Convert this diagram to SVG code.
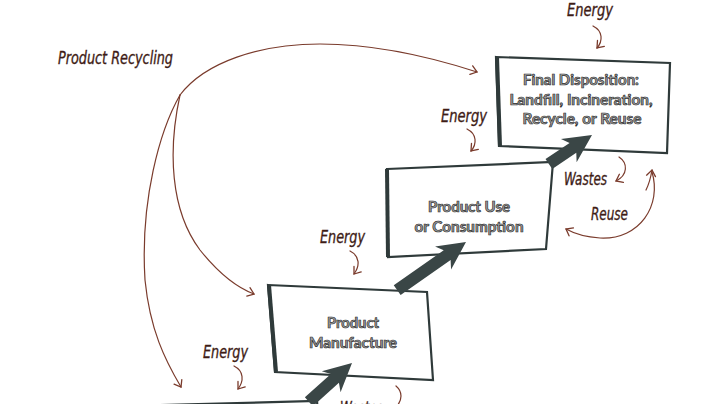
<svg xmlns="http://www.w3.org/2000/svg" width="720" height="404" viewBox="0 0 720 404">
<style>
.box{fill:#fff;stroke:#2f3a3a;stroke-width:2.2;stroke-linejoin:miter}
.edge{stroke:#2f3a3a;stroke-width:4;fill:none}
.bt{font-family:"Lato","Open Sans","DejaVu Sans",sans-serif;font-weight:bold;font-size:15px;fill:#a2a2a2;stroke:#2e2e2e;stroke-width:0.7;text-anchor:middle}
.lab{font-family:"DejaVu Sans Condensed","Liberation Sans Narrow","Liberation Sans",sans-serif;font-style:italic;font-size:18px;fill:#3e1c16;stroke:#3e1c16;stroke-width:0.35}
.cv{fill:none;stroke:#7a3b2c;stroke-width:1.2;stroke-linecap:round}
.big{fill:#3a4646}
</style>
<defs>
<marker id="hk" viewBox="-8 -6 10 12" markerWidth="10" markerHeight="12" refX="0" refY="0" orient="auto" markerUnits="userSpaceOnUse">
<path d="M-6,-4.5 L0,0 L-6,4.5" fill="none" stroke="#7a3b2c" stroke-width="1.3" stroke-linecap="round"/>
</marker>
</defs>
<rect width="720" height="404" fill="#fff"/>

<g id="node-bottom">
<polygon class="box" points="160,405 317,401 320,440 160,440"/>
</g>

<g id="node-manufacture">
<polygon class="box" points="268,285 427,292 433,380 275,372"/>
<line class="edge" x1="269" y1="285" x2="276" y2="372"/>
<text class="bt" x="353" y="328" textLength="52" lengthAdjust="spacingAndGlyphs">Product</text>
<text class="bt" x="353" y="348" textLength="88" lengthAdjust="spacingAndGlyphs">Manufacture</text>
</g>

<g id="node-use">
<polygon class="box" points="387,169 553,162 546,249 388,257"/>
<line class="edge" x1="387" y1="169" x2="388" y2="257"/>
<text class="bt" x="469" y="212" textLength="82" lengthAdjust="spacingAndGlyphs">Product Use</text>
<text class="bt" x="469" y="232" textLength="109" lengthAdjust="spacingAndGlyphs">or Consumption</text>
</g>

<g id="node-final">
<polygon class="box" points="496,57 670,63 667,153 499,146"/>
<line class="edge" x1="497" y1="57" x2="500" y2="146"/>
<text class="bt" x="581" y="85" textLength="116" lengthAdjust="spacingAndGlyphs">Final Disposition:</text>
<text class="bt" x="581" y="105" textLength="143" lengthAdjust="spacingAndGlyphs">Landfill, Incineration,</text>
<text class="bt" x="582" y="124" textLength="119" lengthAdjust="spacingAndGlyphs">Recycle, or Reuse</text>
</g>

<g id="connectors">
<path class="cv" d="M180,95 C205,62 260,44 320,44 C380,44 440,60 477,72" marker-end="url(#hk)"/>
<path class="cv" d="M180,95 C160,130 140,200 145,280 C150,330 165,360 181,387" marker-end="url(#hk)"/>
<path class="cv" d="M180,95 C168,150 170,210 200,250 C220,275 238,288 254,294" marker-end="url(#hk)"/>
<path class="cv" d="M593,26 C603,31 603,41 597,48" marker-end="url(#hk)"/>
<path class="cv" d="M467,129 C477,134 477,144 471,151" marker-end="url(#hk)"/>
<path class="cv" d="M350,251 C360,256 360,266 354,274" marker-end="url(#hk)"/>
<path class="cv" d="M234,366 C244,371 244,381 238,389" marker-end="url(#hk)"/>
<path class="cv" d="M619,157 C628,163 628,175 616,181" marker-end="url(#hk)"/>
<path class="cv" d="M396,386 C403,392 402,400 397,406"/>
<path class="cv" d="M652,172 C662,205 640,240 600,238 C585,237 575,234 566,229" marker-end="url(#hk)"/>
<path class="cv" d="M646,190 C650,182 651,176 652,170" marker-end="url(#hk)"/>
<path class="big" transform="translate(352,363) rotate(-42)" d="M0,0 L-28,-14 L-23,-6 L-58,-6 L-58,6 L-23,6 L-28,14 Z"/>
<path class="big" transform="translate(466,242) rotate(-35)" d="M0,0 L-28,-14 L-23,-6 L-84,-6 L-84,6 L-23,6 L-28,14 Z"/>
<path class="big" transform="translate(592,135) rotate(-34)" d="M0,0 L-28,-14 L-23,-6 L-52,-6 L-52,6 L-23,6 L-28,14 Z"/>
</g>

<g id="labels">
<text class="lab" x="58" y="64" textLength="115" lengthAdjust="spacingAndGlyphs">Product Recycling</text>
<text class="lab" x="567" y="16" textLength="46" lengthAdjust="spacingAndGlyphs">Energy</text>
<text class="lab" x="441" y="122" textLength="46" lengthAdjust="spacingAndGlyphs">Energy</text>
<text class="lab" x="320" y="243" textLength="45" lengthAdjust="spacingAndGlyphs">Energy</text>
<text class="lab" x="203" y="358" textLength="45" lengthAdjust="spacingAndGlyphs">Energy</text>
<text class="lab" x="564" y="185" textLength="43" lengthAdjust="spacingAndGlyphs">Wastes</text>
<text class="lab" x="591" y="220" textLength="37" lengthAdjust="spacingAndGlyphs">Reuse</text>
<text class="lab" x="340" y="414" textLength="43" lengthAdjust="spacingAndGlyphs">Wastes</text>
</g>
</svg>
